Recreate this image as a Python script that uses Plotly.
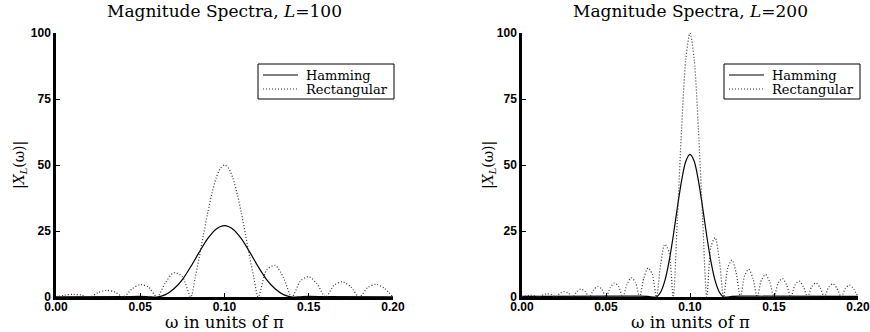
import plotly.graph_objects as go

# ---------------- data ----------------
# L = 100, rectangular window
x_rect100 = [0.000, 0.005, 0.010, 0.015, 0.020, 0.025, 0.030, 0.035, 0.040, 0.045,
             0.050, 0.055, 0.060, 0.065, 0.070, 0.075, 0.080, 0.0825, 0.085, 0.0875,
             0.090, 0.0925, 0.095, 0.0975, 0.100, 0.1025, 0.105, 0.1075, 0.110, 0.1125,
             0.115, 0.1175, 0.120, 0.125, 0.130, 0.135, 0.140, 0.145, 0.150, 0.155,
             0.160, 0.165, 0.170, 0.175, 0.180, 0.185, 0.190, 0.195, 0.200]
y_rect100 = [0.0, 0.66, 1.0, 0.75, 0.0, 1.65, 2.5, 1.9, 0.0, 3.0,
             4.7, 3.7, 0.0, 5.5, 9.2, 7.7, 0.0, 7.0, 15.0, 23.5,
             31.8, 39.2, 45.0, 48.7, 50.0, 48.7, 45.0, 39.2, 31.8, 23.5,
             15.0, 7.0, 0.0, 10.2, 12.0, 7.3, 0.0, 6.0, 7.7, 4.9,
             0.0, 4.4, 5.8, 3.8, 0.0, 3.6, 4.8, 3.2, 0.0]

# L = 100, Hamming window
x_ham100 = [0.0, 0.04, 0.05, 0.055, 0.06, 0.065, 0.07, 0.075, 0.08, 0.085, 0.09, 0.095,
            0.1, 0.105, 0.11, 0.115, 0.12, 0.125, 0.13, 0.135, 0.14, 0.145, 0.15, 0.16, 0.2]
y_ham100 = [0.1, 0.15, 0.2, 0.1, 0.0, 0.9, 3.1, 6.6, 11.5, 17.0, 22.1, 25.7,
            27.0, 25.7, 22.1, 17.0, 11.5, 6.6, 3.1, 0.9, 0.0, 0.1, 0.2, 0.15, 0.1]

# L = 200, rectangular window
x_rect200 = [0.0000, 0.0025, 0.0050, 0.0075, 0.0100, 0.0125, 0.0150, 0.0175, 0.0200,
             0.0225, 0.0250, 0.0275, 0.0300, 0.0325, 0.0350, 0.0375, 0.0400, 0.0425,
             0.0450, 0.0475, 0.0500, 0.0525, 0.0550, 0.0575, 0.0600, 0.0625, 0.0650,
             0.0675, 0.0700, 0.0725, 0.0750, 0.0775, 0.0800, 0.0825, 0.0850, 0.0875,
             0.0900, 0.0925, 0.0950, 0.0975, 0.1000, 0.1025, 0.1050, 0.1075, 0.1100,
             0.1125, 0.1150, 0.1175, 0.1200, 0.1225, 0.1250, 0.1275, 0.1300, 0.1325,
             0.1350, 0.1375, 0.1400, 0.1425, 0.1450, 0.1475, 0.1500, 0.1525, 0.1550,
             0.1575, 0.1600, 0.1625, 0.1650, 0.1675, 0.1700, 0.1725, 0.1750, 0.1775,
             0.1800, 0.1825, 0.1850, 0.1875, 0.1900, 0.1925, 0.1950, 0.1975, 0.2000]
y_rect200 = [0.0, 0.45, 0.7, 0.5, 0.0, 0.8, 1.2, 0.9, 0.0,
             1.3, 2.0, 1.5, 0.0, 1.9, 3.0, 2.2, 0.0, 2.6,
             4.0, 3.0, 0.0, 3.5, 5.3, 4.0, 0.0, 4.8, 7.3,
             5.6, 0.0, 7.1, 11.0, 8.7, 0.0, 12.2, 20.0, 17.0,
             0.0, 30.0, 63.7, 90.0, 100.0, 90.0, 63.7, 30.0, 0.0,
             19.1, 22.5, 13.7, 0.0, 11.0, 14.0, 9.0, 0.0, 8.0,
             10.5, 6.9, 0.0, 6.4, 8.5, 5.6, 0.0, 5.3, 7.0,
             4.6, 0.0, 4.5, 6.0, 3.9, 0.0, 4.0, 5.3, 3.5,
             0.0, 3.7, 5.0, 3.3, 0.0, 3.3, 4.5, 3.0, 0.0]

# L = 200, Hamming window
x_ham200 = [0.0, 0.06, 0.07, 0.075, 0.08, 0.0825, 0.085, 0.0875, 0.09, 0.0925, 0.095,
            0.0975, 0.1, 0.1025, 0.105, 0.1075, 0.11, 0.1125, 0.115, 0.1175, 0.12,
            0.125, 0.13, 0.14, 0.2]
y_ham200 = [0.2, 0.3, 0.3, 0.2, 0.0, 1.8, 6.1, 13.3, 23.0, 34.0, 44.1,
            51.4, 54.0, 51.4, 44.1, 34.0, 23.0, 13.3, 6.1, 1.8, 0.0,
            0.2, 0.3, 0.3, 0.2]

x_ticks = [0.00, 0.05, 0.10, 0.15, 0.20]
x_ticklabels = ["0.00", "0.05", "0.10", "0.15", "0.20"]
y_ticks = [0, 25, 50, 75, 100]
titles = ["Magnitude Spectra, <i>L</i>=100", "Magnitude Spectra, <i>L</i>=200"]
series_names = ["Hamming", "Rectangular"]
x_label = "ω in units of π"
y_label = "|<i>X</i><sub><i>L</i></sub>(ω)|"

# ---------------- figure ----------------
W, H = 870, 332
SERIF = "DejaVu Serif, serif"
SANS = "Liberation Sans, Arial, sans-serif"


def px(x):   # pixel -> paper x
    return x / W


def py(y):   # pixel (from top) -> paper y
    return 1 - y / H


ham_line = dict(color="black", width=1.2, shape="spline", smoothing=0.8)
rect_dash = "1px,2px"
rect_line = dict(color="#333333", width=1.2, dash=rect_dash, shape="spline", smoothing=0.8)

fig = go.Figure()
fig.add_trace(go.Scatter(x=x_ham100, y=y_ham100, mode="lines", name=series_names[0],
                         line=ham_line, xaxis="x", yaxis="y"))
fig.add_trace(go.Scatter(x=x_rect100, y=y_rect100, mode="lines", name=series_names[1],
                         line=rect_line, xaxis="x", yaxis="y"))
fig.add_trace(go.Scatter(x=x_ham200, y=y_ham200, mode="lines", name=series_names[0],
                         line=ham_line, xaxis="x2", yaxis="y2"))
fig.add_trace(go.Scatter(x=x_rect200, y=y_rect200, mode="lines", name=series_names[1],
                         line=rect_line, xaxis="x2", yaxis="y2"))

ydom = [py(297), py(33)]
x1dom = [px(56), px(393)]
x2dom = [px(522), px(858)]


def xaxis(dom, anchor):
    return dict(domain=dom, anchor=anchor, range=[0, 0.2], tickvals=x_ticks,
                ticktext=x_ticklabels, ticks="inside", ticklen=4, tickwidth=1,
                tickcolor="black", showline=True, linewidth=2.5, linecolor="black",
                showgrid=False, zeroline=False, automargin=False,
                ticklabelstandoff=-3, ticklabeloverflow="allow",
                tickfont=dict(family=SANS, size=12, color="black", weight="bold"))


def yaxis(anchor):
    return dict(domain=ydom, anchor=anchor, range=[0, 100], tickvals=y_ticks,
                ticks="inside", ticklen=4, tickwidth=1, tickcolor="black",
                showline=True, linewidth=2.5, linecolor="black",
                showgrid=False, zeroline=False, automargin=False,
                tickfont=dict(family=SANS, size=12, color="black", weight="bold"))


fig.update_layout(
    width=W, height=H, margin=dict(l=0, r=0, t=0, b=0),
    paper_bgcolor="white", plot_bgcolor="white", template="none",
    showlegend=False,
    xaxis=xaxis(x1dom, "y"), yaxis=yaxis("x"),
    xaxis2=xaxis(x2dom, "y2"), yaxis2=yaxis("x2"),
)

annotations = []
shapes = []
for i, dom in enumerate([x1dom, x2dom]):
    cx = (dom[0] + dom[1]) / 2
    annotations.append(dict(text=titles[i], x=cx, y=py(11), xref="paper", yref="paper",
                            xanchor="center", yanchor="middle", showarrow=False,
                            font=dict(family=SERIF, size=17, color="black")))
    annotations.append(dict(text=x_label, x=cx, y=py(322.5), xref="paper", yref="paper",
                            xanchor="center", yanchor="middle", showarrow=False,
                            font=dict(family=SERIF, size=16.5, color="black")))
for lx in [20, 489]:
    annotations.append(dict(text=y_label, x=px(lx), y=py(165), xref="paper", yref="paper",
                            xanchor="center", yanchor="middle", showarrow=False, textangle=-90,
                            font=dict(family=SERIF, size=14, color="black")))

# legend boxes (one per panel)
for bx in [258, 724]:
    shapes.append(dict(type="rect", xref="paper", yref="paper",
                       x0=px(bx), x1=px(bx + 136), y0=py(99), y1=py(64),
                       line=dict(color="black", width=1), fillcolor="white", layer="above"))
    for row_y, name, dash in [(75, series_names[0], "solid"), (89, series_names[1], rect_dash)]:
        shapes.append(dict(type="line", xref="paper", yref="paper",
                           x0=px(bx + 5), x1=px(bx + 40), y0=py(row_y), y1=py(row_y),
                           line=dict(color="black" if dash == "solid" else "#333333",
                                     width=1.2, dash=dash), layer="above"))
        annotations.append(dict(text=name, x=px(bx + 46), y=py(row_y), xref="paper",
                                yref="paper", xanchor="left", yanchor="middle",
                                showarrow=False,
                                font=dict(family=SERIF, size=13, color="black")))

fig.update_layout(annotations=annotations, shapes=shapes)

fig.write_html("out.html", config={"displayModeBar": False},
               post_script="document.body.style.margin='0px';document.body.style.padding='0px';")
